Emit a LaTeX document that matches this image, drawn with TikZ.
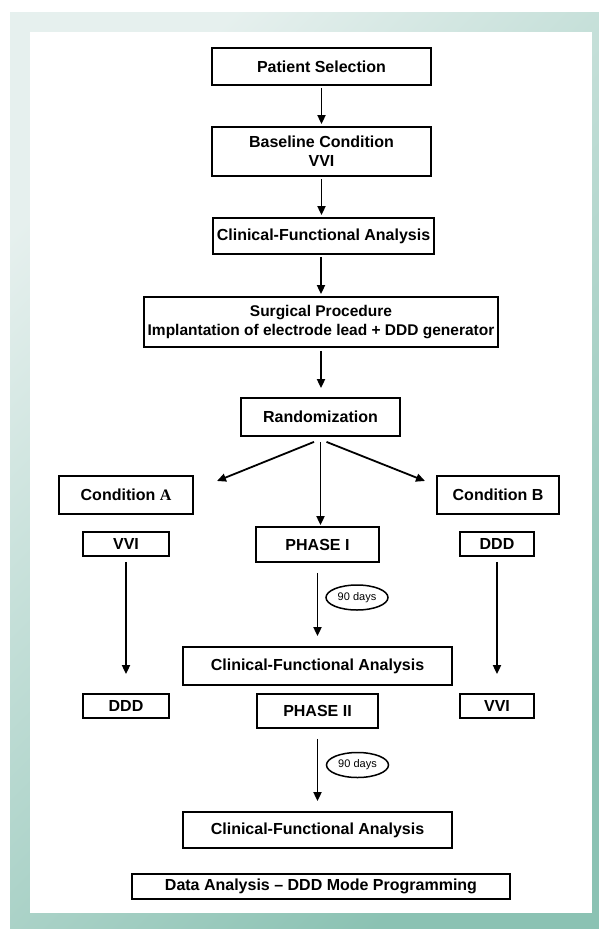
\documentclass[tikz,border=0pt]{standalone}
\usepackage{fontspec}
\setmainfont{Liberation Sans}
\newfontfamily\serifA{Liberation Serif}
\usetikzlibrary{arrows.meta,shapes.geometric,calc}
\definecolor{gl}{HTML}{E6F0EE}
\definecolor{gm}{HTML}{AACFC6}
\definecolor{gd}{HTML}{8BC2B3}
\begin{document}
\begin{tikzpicture}[x=1pt,y=-1pt,
  box/.style={draw=black, line width=1.8pt, fill=white, rectangle, inner sep=0pt, align=center,
    font=\fontsize{16}{19}\selectfont\bfseries},
  arr/.style={line width=1.8pt, -{Triangle[length=9pt,width=8pt]}},
  days/.style={draw=black, ellipse, line width=1.5pt, fill=white, inner sep=0pt,
    minimum width=62pt, minimum height=25pt, font=\fontsize{11}{13}\selectfont}
]
\useasboundingbox (0,0) rectangle (599,929);
\fill[white] (0,0) rectangle (599,929);
\shade[top color=gl, middle color=gm, bottom color=gd, shading angle=45] (10,12) rectangle (599,929);
\fill[white] (30,32) rectangle (592,913);

\node[box, minimum width=219pt, minimum height=37pt] (ps) at (321.5,66.5) {Patient Selection};
\node[box, minimum width=219pt, minimum height=49pt] (bl) at (321.5,151.5) {Baseline Condition\\VVI};
\node[box, minimum width=221pt, minimum height=36pt] (cfa1) at (323.5,236) {Clinical-Functional Analysis};
\node[box, minimum width=354pt, minimum height=50pt, font=\fontsize{15.5}{18.5}\selectfont\bfseries] (surg) at (321,322)
  {Surgical Procedure\\Implantation of electrode lead + DDD generator};
\node[box, minimum width=159pt, minimum height=38pt] (rand) at (320.5,417) {Randomization};
\node[box, minimum width=134pt, minimum height=38pt] (condA) at (126,495) {Condition {\serifA A}};
\node[box, minimum width=122pt, minimum height=38pt] (condB) at (498,495) {Condition B};
\node[box, minimum width=86pt, minimum height=24pt] (vviL) at (126,544) {VVI};
\node[box, minimum width=123pt, minimum height=35pt] (ph1) at (317.5,544.5) {PHASE I};
\node[box, minimum width=74pt, minimum height=24pt] (dddR) at (497,544) {DDD};
\node[box, minimum width=269pt, minimum height=38pt] (cfa2) at (317.5,666) {Clinical-Functional Analysis};
\node[box, minimum width=86pt, minimum height=24pt] (dddL) at (126,706) {DDD};
\node[box, minimum width=74pt, minimum height=24pt] (vviR) at (497,706) {VVI};
\node[box, minimum width=121pt, minimum height=34pt] (ph2) at (317.5,711) {PHASE II};
\node[box, minimum width=269pt, minimum height=36pt] (cfa3) at (317.5,830) {Clinical-Functional Analysis};
\node[box, minimum width=378pt, minimum height=25pt] (data) at (321,886.5) {Data Analysis -- DDD Mode Programming};

\node[days] (e1) at (357,597.5) {90 days};
\node[days] (e2) at (357.5,765) {90 days};

\coordinate (aL) at (217,481);
\coordinate (aR) at (425,481);

\draw[arr, shorten <=2pt, shorten >=2pt] (ps.south) -- (ps.south |- bl.north);
\draw[arr, shorten <=2pt, shorten >=2pt] (bl.south) -- (bl.south |- cfa1.north);
\draw[arr, shorten <=2pt, shorten >=2pt] (cfa1.south -| surg.north) -- (surg.north);
\draw[arr, shorten <=3pt, shorten >=9pt] (surg.south) -- (surg.south |- rand.north);
\draw[arr] ([xshift=-6.5pt,yshift=-5pt]rand.south) -- (aL);
\draw[arr] ([xshift=6pt,yshift=-5pt]rand.south) -- (aR);
\draw[arr, shorten <=5pt, shorten >=1pt] (rand.south) -- (rand.south |- ph1.north);
\draw[arr, shorten <=10pt, shorten >=10pt] (ph1.south) -- (ph1.south |- cfa2.north);
\draw[arr, shorten <=5pt, shorten >=19pt] (vviL.south) -- (dddL.north);
\draw[arr, shorten <=5pt, shorten >=19pt] (dddR.south) -- (vviR.north);
\draw[arr, shorten <=10pt, shorten >=10pt] (ph2.south) -- (ph2.south |- cfa3.north);
\end{tikzpicture}
\end{document}
